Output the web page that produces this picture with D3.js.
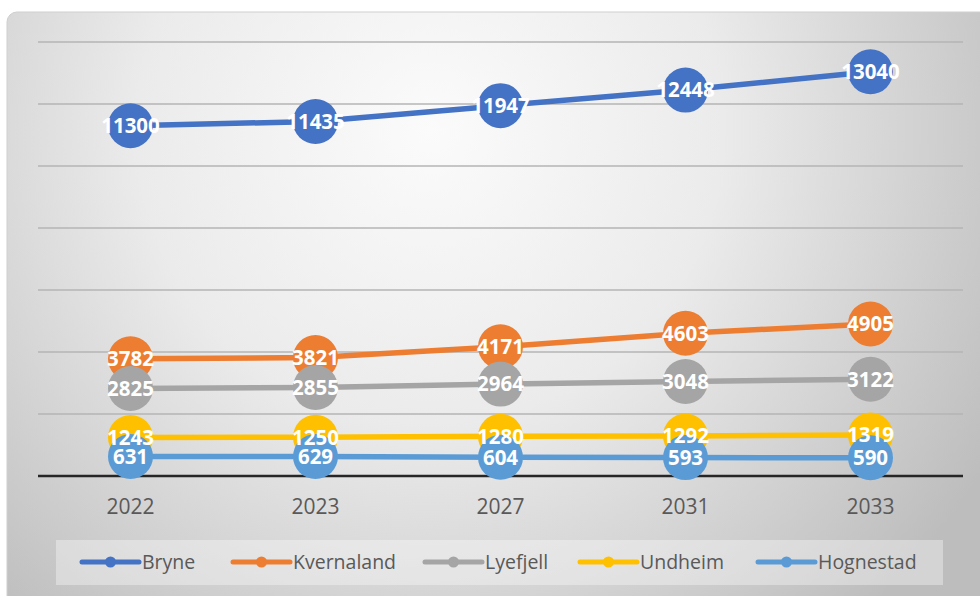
<!DOCTYPE html>
<html lang="no">
<head>
<meta charset="UTF-8">
<title>Bryne og omegn</title>
<script src="https://cdnjs.cloudflare.com/ajax/libs/d3/7.8.5/d3.min.js"></script>
<style>
    body { margin: 0; background: #fff; }
    svg { display: block; font-family: "Open Sans", sans-serif; }
</style>
</head>
<body>
<svg id="chart" width="980" height="596"></svg>
<script>
    const years = ["2022", "2023", "2027", "2031", "2033"];
    const bryne = [11300, 11435, 11947, 12448, 13040];
    const kvernaland = [3782, 3821, 4171, 4603, 4905];
    const lyefjell = [2825, 2855, 2964, 3048, 3122];
    const undheim = [1243, 1250, 1280, 1292, 1319];
    const hognestad = [631, 629, 604, 593, 590];
    const yTicks = [0, 2000, 4000, 6000, 8000, 10000, 12000, 14000];

    const series = [
        { name: "Bryne", values: bryne, color: "#4472c4" },
        { name: "Kvernaland", values: kvernaland, color: "#ed7d31" },
        { name: "Lyefjell", values: lyefjell, color: "#a5a5a5" },
        { name: "Undheim", values: undheim, color: "#ffc000" },
        { name: "Hognestad", values: hognestad, color: "#5b9bd5" }
    ];

    const svg = d3.select("#chart");
    const plot = { left: 38, right: 963, top: 42, bottom: 476 };

    // background
    const defs = svg.append("defs");
    const grad = defs.append("radialGradient")
        .attr("id", "bg")
        .attr("gradientUnits", "userSpaceOnUse")
        .attr("cx", 430).attr("cy", 130).attr("r", 650);
    grad.append("stop").attr("offset", "0%").attr("stop-color", "#fbfbfb");
    grad.append("stop").attr("offset", "45%").attr("stop-color", "#ebebeb");
    grad.append("stop").attr("offset", "100%").attr("stop-color", "#bdbdbd");

    svg.append("rect")
        .attr("x", 7).attr("y", 12)
        .attr("width", 990).attr("height", 600)
        .attr("rx", 10)
        .attr("fill", "url(#bg)")
        .attr("stroke", "#cfcfcf");

    const x = d3.scaleBand().domain(years).range([plot.left, plot.right]);
    const y = d3.scaleLinear().domain([0, 14000]).range([plot.bottom, plot.top]);
    const cx = d => x(d) + x.bandwidth() / 2;

    // gridlines
    svg.append("g")
        .selectAll("line")
        .data(yTicks.slice(1))
        .join("line")
        .attr("x1", plot.left).attr("x2", plot.right)
        .attr("y1", d => y(d)).attr("y2", d => y(d))
        .attr("stroke", "#b4b4b4")
        .attr("stroke-width", 1.5);

    svg.append("line")
        .attr("x1", plot.left).attr("x2", plot.right)
        .attr("y1", y(0)).attr("y2", y(0))
        .attr("stroke", "#262626")
        .attr("stroke-width", 2.5);

    // x axis labels
    const xAxis = d3.axisBottom(x).tickSize(0).tickPadding(23);
    const xg = svg.append("g").attr("transform", `translate(0,${y(0)})`).call(xAxis);
    xg.select(".domain").remove();
    xg.selectAll("text")
        .attr("font-size", 21)
        .attr("font-family", "Open Sans, sans-serif")
        .attr("fill", "#595959");

    const line = d3.line()
        .x((d, i) => cx(years[i]))
        .y(d => y(d));

    series.forEach(s => {
        const g = svg.append("g");
        g.append("path")
            .datum(s.values)
            .attr("d", line)
            .attr("fill", "none")
            .attr("stroke", s.color)
            .attr("stroke-width", 5.5)
            .attr("stroke-linecap", "round");
        g.selectAll("circle")
            .data(s.values)
            .join("circle")
            .attr("cx", (d, i) => cx(years[i]))
            .attr("cy", d => y(d))
            .attr("r", 22.5)
            .attr("fill", s.color);
    });

    // data labels on top
    series.forEach(s => {
        svg.append("g")
            .selectAll("text")
            .data(s.values)
            .join("text")
            .attr("x", (d, i) => cx(years[i]))
            .attr("y", d => y(d))
            .attr("dy", "0.36em")
            .attr("text-anchor", "middle")
            .attr("font-size", 20.5)
            .attr("font-weight", "bold")
            .attr("fill", "#fff")
            .text(d => d);
    });

    // legend
    const legend = svg.append("g");
    legend.append("rect")
        .attr("x", 56).attr("y", 540)
        .attr("width", 887).attr("height", 45)
        .attr("fill", "#ffffff").attr("fill-opacity", 0.35);

    const legendX = [82, 233, 425, 580, 758];
    series.forEach((s, i) => {
        const lg = legend.append("g").attr("transform", `translate(${legendX[i]},562)`);
        lg.append("line")
            .attr("x1", 0).attr("x2", 57)
            .attr("stroke", s.color).attr("stroke-width", 5)
            .attr("stroke-linecap", "round");
        lg.append("circle").attr("cx", 28.5).attr("r", 5.5).attr("fill", s.color);
        lg.append("text")
            .attr("x", 60).attr("dy", "0.35em")
            .attr("font-size", 19.5)
            .attr("fill", "#595959")
            .text(s.name);
    });
</script>
</body>
</html>
